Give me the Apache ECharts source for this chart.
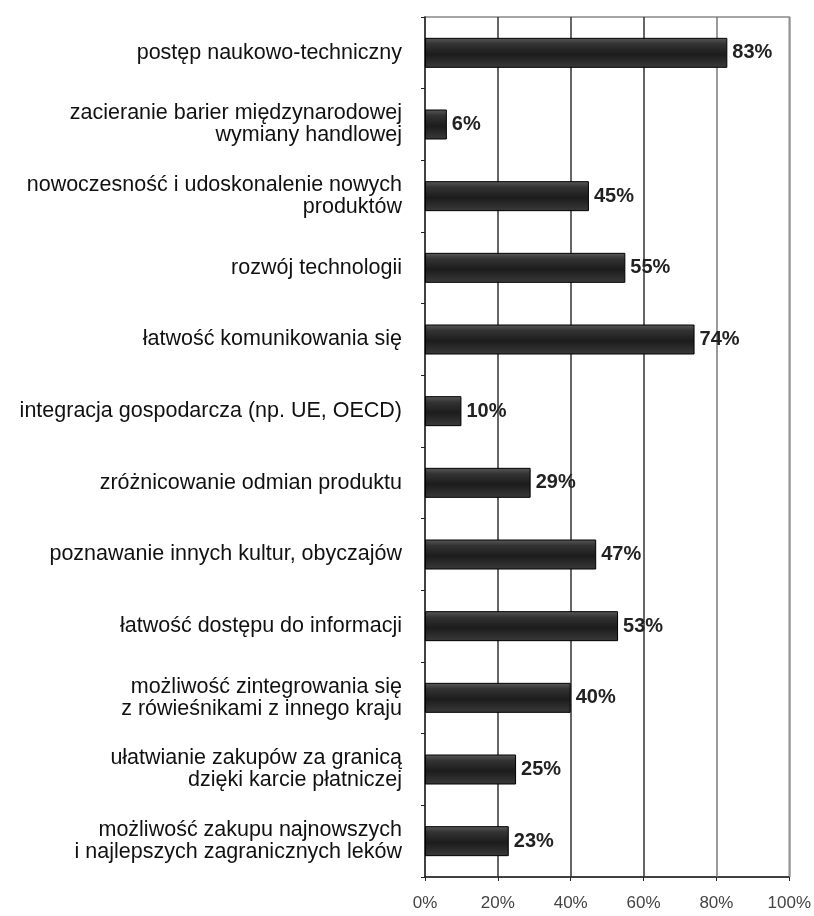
<!DOCTYPE html>
<html>
<head>
<meta charset="utf-8">
<script src="https://cdn.jsdelivr.net/npm/echarts@6/dist/echarts.min.js"></script>
<style>
  html, body { margin: 0; padding: 0; background: #fff; }
  #chart { width: 814px; height: 916px; }
</style>
</head>
<body>
<div id="chart"></div>
<script>
// kategorie (od góry)
const categories = [
  "postęp naukowo-techniczny",
  "zacieranie barier międzynarodowej\nwymiany handlowej",
  "nowoczesność i udoskonalenie nowych\nproduktów",
  "rozwój technologii",
  "łatwość komunikowania się",
  "integracja gospodarcza (np. UE, OECD)",
  "zróżnicowanie odmian produktu",
  "poznawanie innych kultur, obyczajów",
  "łatwość dostępu do informacji",
  "możliwość zintegrowania się\nz rówieśnikami z innego kraju",
  "ułatwianie zakupów za granicą\ndzięki karcie płatniczej",
  "możliwość zakupu najnowszych\ni najlepszych zagranicznych leków"
];
const values = [83, 6, 45, 55, 74, 10, 29, 47, 53, 40, 25, 23];
const xTicks = [0, 20, 40, 60, 80, 100];
// kolory pionowych linii siatki (20%..100%), w oryginale prawe są jaśniejsze
const gridColors = ["#333", "#333", "#333", "#7a7a7a", "#999"];

const chart = echarts.init(document.getElementById("chart"));

// ciemny "walec" jak w oryginale
const barColor = new echarts.graphic.LinearGradient(0, 0, 0, 1, [
  { offset: 0, color: "#5a5a5a" },
  { offset: 0.2, color: "#333" },
  { offset: 0.55, color: "#1c1c1c" },
  { offset: 1, color: "#3a3a3a" }
]);

chart.setOption({
  animation: false,
  grid: {
    left: 425, right: 24, top: 17, bottom: 39,
    show: true, borderColor: "#888", borderWidth: 1.5
  },
  xAxis: {
    type: "value",
    min: xTicks[0],
    max: xTicks[xTicks.length - 1],
    interval: 20,
    axisLine: { show: true, lineStyle: { color: "#222", width: 1.5 } },
    axisTick: { show: true, length: 4, lineStyle: { color: "#222" } },
    axisLabel: {
      formatter: v => v + "%",
      color: "#444",
      fontSize: 17,
      fontFamily: "Liberation Sans, Arial, sans-serif",
      margin: 18
    },
    splitLine: { show: false }
  },
  yAxis: {
    type: "category",
    inverse: true,
    data: categories,
    axisLine: { show: true, lineStyle: { color: "#222", width: 1.5 } },
    axisTick: { show: true, length: 4, lineStyle: { color: "#222" } },
    axisLabel: {
      color: "#111",
      fontSize: 21.5,
      lineHeight: 22,
      fontFamily: "Liberation Sans, Arial, sans-serif",
      margin: 23,
      align: "right",
      padding: [0, 0, 5, 0]
    },
    splitLine: { show: false }
  },
  series: [{
    type: "bar",
    data: values,
    barWidth: 30,
    itemStyle: { color: barColor, borderColor: "#000", borderWidth: 1 },
    label: {
      show: true,
      position: "right",
      distance: 5,
      formatter: "{c}%",
      color: "#222",
      fontSize: 20,
      fontWeight: "bold",
      fontFamily: "Liberation Sans, Arial, sans-serif"
    },
    // linie siatki pod słupkami
    markLine: {
      z: 1,
      silent: true,
      symbol: "none",
      label: { show: false },
      emphasis: { disabled: true },
      data: xTicks.slice(1).map((v, i) => ({
        xAxis: v,
        lineStyle: { color: gridColors[i], width: 1.5, type: "solid" }
      }))
    }
  }]
});
</script>
</body>
</html>
